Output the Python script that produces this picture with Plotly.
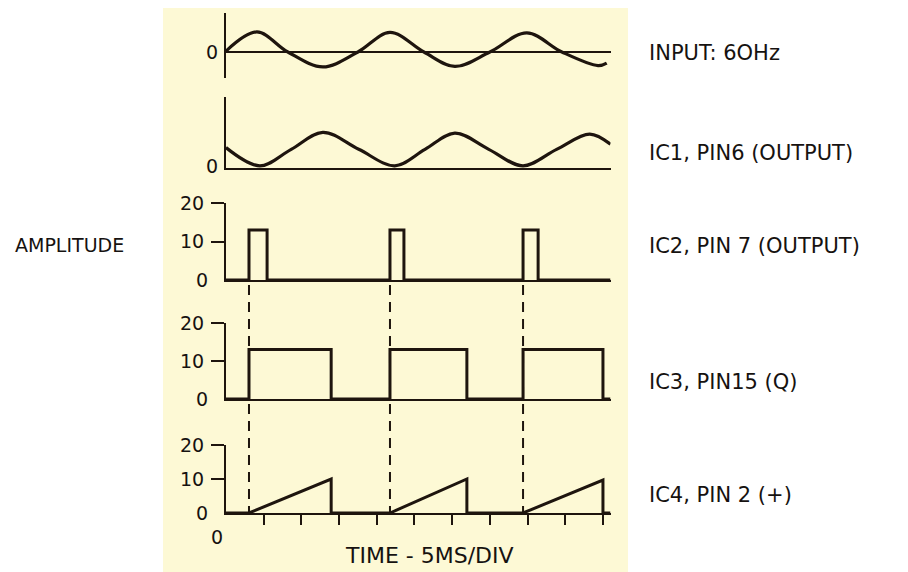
import plotly.graph_objects as go
from plotly.subplots import make_subplots

# time axis in divisions (5 ms / div)
div_ticks = [1, 2, 3, 4, 5, 6, 7, 8, 9, 10]
amp_ticks = [10, 20]

# input 60 Hz sine - peaks, zero crossings, troughs
input_t = [0, 0.82, 1.64, 2.57, 3.50, 4.35, 5.25, 6.07, 7.00, 7.98, 8.91, 9.87, 10.1]
input_v = [0.05, 1.18, 0, -0.88, 0, 1.15, 0, -0.85, 0, 1.12, 0, -0.8, -0.65]

# IC1 pin 6 output (offset sine)
ic1_t = [0, 0.9, 1.73, 2.57, 3.52, 4.48, 5.28, 6.07, 6.97, 7.88, 8.77, 9.65, 10.2]
ic1_v = [1.1, 0.03, 1.0, 2.0, 1.0, 0.03, 1.0, 1.95, 1.0, 0.03, 1.0, 1.9, 1.3]

# IC2 pin 7 pulses (step edges)
ic2_t = [0, 0.61, 1.09, 4.35, 4.72, 7.88, 8.28, 10.2]
ic2_v = [0, 13, 0, 13, 0, 13, 0, 0]

# IC3 pin 15 (Q) square wave (step edges)
ic3_t = [0, 0.61, 2.79, 4.35, 6.39, 7.88, 10.0, 10.2]
ic3_v = [0, 13, 0, 13, 0, 13, 0, 0]

# IC4 pin 2 (+) ramp
ic4_t = [0, 0.61, 2.79, 2.79, 4.35, 6.39, 6.39, 7.88, 10.0, 10.0, 10.2]
ic4_v = [0, 0, 10, 0, 0, 10, 0, 0, 9.7, 0, 0]

# trigger instants (dashed markers)
trigger_t = [0.61, 4.35, 7.88]

labels = ["INPUT: 6OHz", "IC1, PIN6 (OUTPUT)", "IC2, PIN 7 (OUTPUT)",
          "IC3, PIN15 (Q)", "IC4, PIN 2 (+)"]

# page body has an 8px margin, so the figure is drawn 8px in from the corner
OFF = 8
W, H = 908 - OFF, 572 - OFF
INK = "#1e150e"
TXT = "#161210"
CREAM = "#fdf9d5"
FONT = "DejaVu Sans"


def px(x):
    return (x - OFF) / W


def py(y):
    return 1 - (y - OFF) / H


fig = make_subplots(rows=5, cols=1, shared_xaxes=True)

fig.add_trace(go.Scatter(x=input_t, y=input_v, line=dict(color=INK, width=3.2, shape="spline")), row=1, col=1)
fig.add_trace(go.Scatter(x=ic1_t, y=ic1_v, line=dict(color=INK, width=3.2, shape="spline")), row=2, col=1)
fig.add_trace(go.Scatter(x=ic2_t, y=ic2_v, line=dict(color=INK, width=3, shape="hv")), row=3, col=1)
fig.add_trace(go.Scatter(x=ic3_t, y=ic3_v, line=dict(color=INK, width=3, shape="hv")), row=4, col=1)
fig.add_trace(go.Scatter(x=ic4_t, y=ic4_v, line=dict(color=INK, width=3)), row=5, col=1)
fig.update_traces(mode="lines", showlegend=False, hoverinfo="skip")

# panel placement in screen pixels: (top, bottom)
panels = [(13, 78), (97, 168), (203, 280), (323, 399), (445, 513)]
ranges = [[-26 / 17, 39 / 17], [-0.1, 4.08], [0, 20], [0, 20], [0, 20]]

xdom = [px(226), px(610.5)]
tick_font = dict(family=FONT, size=19, color=TXT)
for i, ((top, bot), rng) in enumerate(zip(panels, ranges)):
    n = "" if i == 0 else str(i + 1)
    yax = dict(domain=[py(bot), py(top)], range=rng, showgrid=False, automargin=False,
               showline=True, linecolor=INK, linewidth=2.2, tickfont=tick_font,
               zeroline=False)
    if i < 2:
        yax.update(tickvals=[0], ticktext=["0"], ticks="", ticklabelstandoff=2)
    else:
        yax.update(tickvals=amp_ticks, ticks="outside", ticklen=13, tickwidth=2,
                   tickcolor=INK, ticklabelstandoff=3)
    if i == 0:
        yax.update(zeroline=True, zerolinecolor=INK, zerolinewidth=1.6)
    xax = dict(domain=xdom, range=[0, 10.2], showgrid=False, zeroline=False,
               automargin=False, showline=i > 0, linecolor=INK, linewidth=2.2,
               showticklabels=False, ticks="")
    if i == 4:
        xax.update(tickvals=div_ticks, ticks="outside", ticklen=10, tickwidth=2,
                   tickcolor=INK)
    fig.layout["yaxis" + n].update(yax)
    fig.layout["xaxis" + n].update(xax)

# cream card behind the diagram
fig.add_shape(type="rect", xref="paper", yref="paper", x0=px(163), x1=px(628),
              y0=-0.05, y1=1.05, fillcolor=CREAM, line_width=0, layer="below")

# dashed trigger lines from IC2 down to IC4
for t in trigger_t:
    fig.add_shape(type="line", xref="x5", yref="paper", x0=t, x1=t,
                  y0=py(285), y1=py(513), line=dict(color=INK, width=2, dash="10px,7px"),
                  layer="below")

# zero labels on the 20-scale panels
for i in (3, 4, 5):
    fig.add_annotation(x=0, y=0, xref="x" + str(i), yref="y" + str(i), text="0",
                       showarrow=False, xanchor="right", xshift=-16,
                       font=tick_font)

# right-hand trace labels
label_y = [53, 153, 246, 382, 495]
for txt, yy in zip(labels, label_y):
    fig.add_annotation(x=px(647), y=py(yy), xref="paper", yref="paper", text=txt,
                       showarrow=False, xanchor="left", yanchor="middle",
                       font=dict(family=FONT, size=21, color=TXT))

fig.add_annotation(x=px(13), y=py(245), xref="paper", yref="paper", text="AMPLITUDE",
                   showarrow=False, xanchor="left", yanchor="middle",
                   font=dict(family=FONT, size=19, color=TXT))
fig.add_annotation(x=0, y=py(537), xref="x5", yref="paper", text="0", xshift=-9,
                   showarrow=False, yanchor="middle", font=tick_font)
fig.add_annotation(x=px(429), y=py(555), xref="paper", yref="paper",
                   text="TIME - 5MS/DIV", showarrow=False, yanchor="middle",
                   font=dict(family=FONT, size=22, color=TXT))

fig.update_layout(width=W, height=H, margin=dict(l=0, r=0, t=0, b=0, autoexpand=False),
                  paper_bgcolor="white", plot_bgcolor="rgba(0,0,0,0)",
                  showlegend=False)

fig.write_html("out.html")
